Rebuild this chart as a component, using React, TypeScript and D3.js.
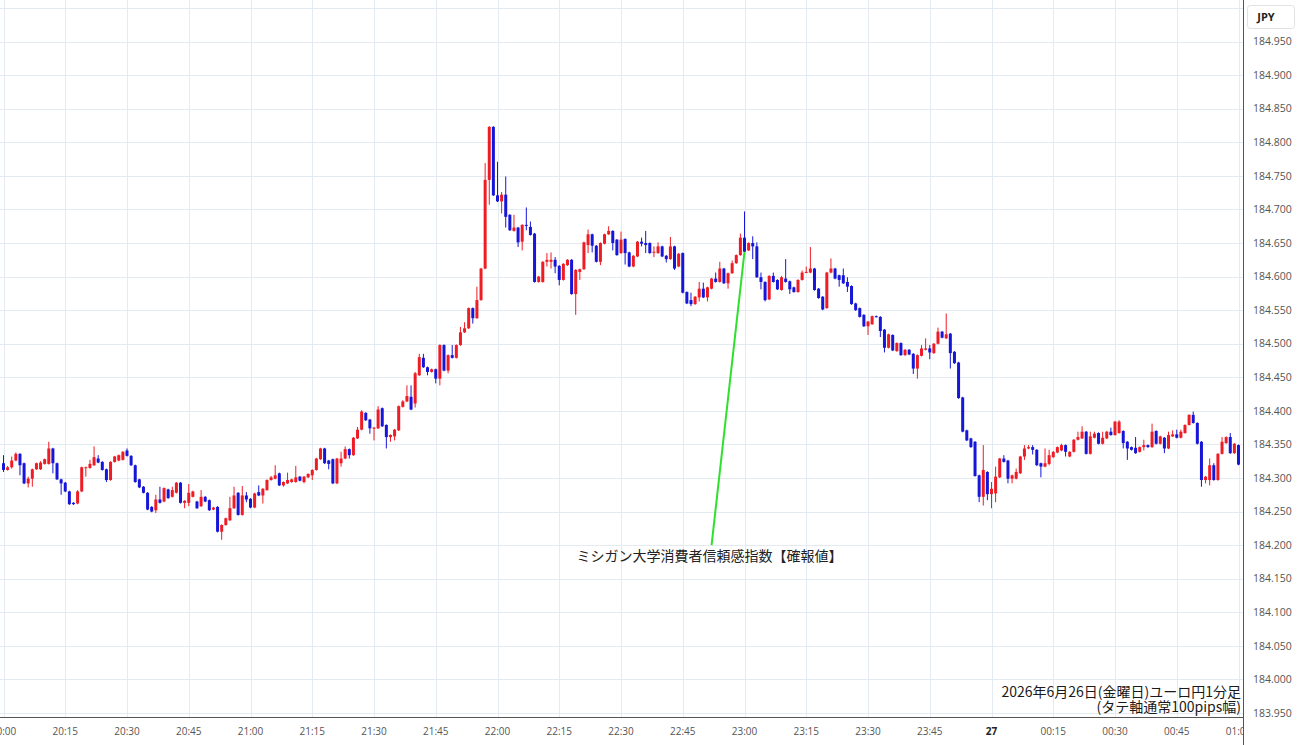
import React from 'react';
import * as d3 from 'd3';

// ---- data ----
const startTime = new Date(2026, 5, 26, 20, 0, 0);
const endTime = new Date(2026, 5, 27, 1, 0, 0);

const priceTicks = [183.95, 184.0, 184.05, 184.1, 184.15, 184.2, 184.25, 184.3, 184.35, 184.4, 184.45, 184.5, 184.55, 184.6, 184.65, 184.7, 184.75, 184.8, 184.85, 184.9, 184.95];
const gridPrices = [...priceTicks, 185.0];

// one-minute candles from 20:00, [open, high, low, close]
const candles: [number, number, number, number][] = [
  [184.322,184.334,184.309,184.312],[184.312,184.318,184.311,184.316],[184.316,184.332,184.314,184.326],[184.326,184.338,184.325,184.336],[184.336,184.337,184.304,184.319],
  [184.322,184.323,184.291,184.292],[184.292,184.302,184.286,184.299],[184.299,184.314,184.287,184.313],[184.313,184.323,184.312,184.322],[184.313,184.325,184.312,184.323],
  [184.321,184.329,184.320,184.328],[184.321,184.354,184.320,184.344],[184.344,184.345,184.307,184.322],[184.322,184.323,184.297,184.298],[184.298,184.299,184.275,184.292],
  [184.293,184.294,184.279,184.280],[184.280,184.281,184.260,184.261],[184.263,184.264,184.260,184.261],[184.262,184.282,184.261,184.280],[184.280,184.317,184.279,184.316],
  [184.315,184.317,184.302,184.316],[184.315,184.327,184.314,184.321],[184.319,184.347,184.318,184.331],[184.329,184.334,184.322,184.323],[184.324,184.325,184.311,184.312],
  [184.313,184.314,184.294,184.297],[184.297,184.325,184.296,184.324],[184.324,184.333,184.323,184.332],[184.326,184.335,184.325,184.334],[184.327,184.340,184.326,184.339],
  [184.341,184.344,184.332,184.333],[184.333,184.334,184.318,184.319],[184.319,184.320,184.293,184.294],[184.298,184.299,184.285,184.286],[184.287,184.288,184.277,184.278],
  [184.278,184.279,184.252,184.253],[184.257,184.258,184.249,184.250],[184.252,184.275,184.248,184.268],[184.268,184.287,184.262,184.263],[184.265,184.286,184.264,184.285],
  [184.283,184.284,184.269,184.270],[184.272,184.287,184.271,184.282],[184.278,184.294,184.277,184.293],[184.293,184.294,184.262,184.263],[184.263,184.267,184.255,184.266],
  [184.263,184.291,184.258,184.278],[184.272,184.281,184.271,184.280],[184.265,184.266,184.254,184.255],[184.258,184.282,184.257,184.272],[184.272,184.273,184.264,184.265],
  [184.267,184.268,184.251,184.252],[184.253,184.257,184.252,184.256],[184.257,184.258,184.219,184.220],[184.220,184.231,184.208,184.230],[184.230,184.241,184.229,184.240],
  [184.237,184.272,184.236,184.255],[184.255,184.287,184.254,184.274],[184.278,184.279,184.244,184.245],[184.245,184.288,184.244,184.274],[184.274,184.279,184.264,184.268],
  [184.269,184.270,184.255,184.256],[184.256,184.278,184.255,184.277],[184.279,184.289,184.273,184.274],[184.274,184.285,184.262,184.284],[184.282,184.298,184.281,184.297],
  [184.297,184.303,184.296,184.301],[184.299,184.319,184.298,184.304],[184.307,184.308,184.288,184.289],[184.289,184.295,184.287,184.294],[184.292,184.308,184.291,184.297],
  [184.294,184.299,184.293,184.298],[184.294,184.318,184.293,184.301],[184.302,184.303,184.295,184.296],[184.294,184.303,184.292,184.302],[184.301,184.307,184.300,184.306],
  [184.304,184.313,184.297,184.312],[184.312,184.330,184.311,184.329],[184.328,184.345,184.327,184.344],[184.344,184.345,184.321,184.322],[184.326,184.327,184.313,184.321],
  [184.328,184.329,184.291,184.292],[184.292,184.330,184.291,184.329],[184.322,184.339,184.317,184.329],[184.329,184.347,184.328,184.343],[184.343,184.344,184.329,184.334],
  [184.334,184.361,184.333,184.360],[184.359,184.376,184.358,184.372],[184.372,184.401,184.371,184.399],[184.397,184.398,184.385,184.386],[184.387,184.388,184.366,184.374],
  [184.374,184.376,184.356,184.375],[184.374,184.407,184.373,184.402],[184.404,184.405,184.376,184.377],[184.379,184.380,184.344,184.361],[184.361,184.365,184.354,184.364],
  [184.362,184.373,184.356,184.372],[184.371,184.408,184.370,184.407],[184.406,184.416,184.405,184.414],[184.414,184.438,184.413,184.422],[184.421,184.438,184.401,184.402],
  [184.411,184.458,184.405,184.456],[184.453,184.485,184.452,184.480],[184.479,184.485,184.464,184.465],[184.465,184.466,184.453,184.458],[184.458,184.463,184.457,184.462],
  [184.462,184.463,184.441,184.448],[184.448,184.499,184.438,184.498],[184.498,184.499,184.459,184.460],[184.460,184.484,184.456,184.483],[184.483,184.498,184.478,184.479],
  [184.479,184.499,184.478,184.498],[184.498,184.525,184.497,184.517],[184.517,184.532,184.516,184.523],[184.523,184.554,184.522,184.553],[184.553,184.554,184.530,184.538],
  [184.538,184.585,184.537,184.565],[184.565,184.613,184.564,184.612],[184.612,184.769,184.611,184.744],[184.744,184.824,184.707,184.823],[184.823,184.824,184.720,184.721],
  [184.721,184.771,184.711,184.712],[184.712,184.726,184.694,184.722],[184.722,184.749,184.673,184.689],[184.692,184.693,184.668,184.669],[184.668,184.692,184.667,184.673],
  [184.673,184.674,184.644,184.651],[184.652,184.678,184.639,184.677],[184.677,184.703,184.669,184.676],[184.674,184.682,184.661,184.662],[184.664,184.665,184.591,184.592],
  [184.592,184.601,184.591,184.600],[184.592,184.623,184.591,184.622],[184.622,184.635,184.615,184.625],[184.622,184.636,184.612,184.625],[184.625,184.629,184.605,184.615],
  [184.616,184.617,184.587,184.595],[184.595,184.620,184.594,184.619],[184.617,184.626,184.616,184.625],[184.625,184.626,184.573,184.574],[184.574,184.611,184.543,184.610],
  [184.607,184.612,184.595,184.611],[184.611,184.652,184.610,184.651],[184.647,184.670,184.635,184.663],[184.663,184.664,184.636,184.646],[184.646,184.647,184.621,184.622],
  [184.622,184.651,184.617,184.650],[184.649,184.664,184.648,184.663],[184.663,184.675,184.662,184.668],[184.668,184.669,184.639,184.650],[184.655,184.656,184.631,184.632],
  [184.635,184.667,184.634,184.655],[184.656,184.657,184.618,184.635],[184.636,184.637,184.614,184.615],[184.615,184.632,184.614,184.631],[184.630,184.653,184.629,184.652],
  [184.652,184.658,184.645,184.649],[184.650,184.668,184.635,184.647],[184.650,184.651,184.634,184.635],[184.636,184.645,184.629,184.637],[184.635,184.651,184.634,184.645],
  [184.645,184.646,184.629,184.630],[184.631,184.632,184.621,184.626],[184.626,184.659,184.625,184.645],[184.645,184.646,184.610,184.612],[184.615,184.635,184.614,184.634],
  [184.635,184.636,184.575,184.576],[184.577,184.578,184.559,184.560],[184.565,184.576,184.556,184.559],[184.559,184.571,184.558,184.570],[184.569,184.592,184.563,184.582],
  [184.582,184.591,184.568,184.569],[184.569,184.585,184.563,184.584],[184.582,184.598,184.581,184.597],[184.597,184.606,184.591,184.592],[184.592,184.622,184.591,184.612],
  [184.612,184.613,184.589,184.590],[184.590,184.606,184.582,184.605],[184.605,184.624,184.604,184.620],[184.620,184.633,184.619,184.632],[184.632,184.664,184.631,184.658],
  [184.658,184.697,184.636,184.637],[184.639,184.651,184.638,184.650],[184.650,184.660,184.626,184.645],[184.645,184.651,184.598,184.599],[184.599,184.606,184.581,184.592],
  [184.592,184.593,184.563,184.565],[184.566,184.602,184.565,184.601],[184.601,184.606,184.591,184.592],[184.595,184.596,184.580,184.581],[184.580,184.601,184.579,184.599],
  [184.597,184.626,184.591,184.592],[184.593,184.594,184.574,184.581],[184.584,184.585,184.576,184.577],[184.577,184.596,184.576,184.595],[184.595,184.609,184.594,184.606],
  [184.606,184.615,184.605,184.607],[184.606,184.644,184.605,184.612],[184.612,184.613,184.579,184.580],[184.582,184.583,184.567,184.568],[184.570,184.571,184.550,184.551],
  [184.553,184.607,184.552,184.606],[184.606,184.627,184.605,184.612],[184.612,184.613,184.596,184.597],[184.602,184.603,184.585,184.595],[184.602,184.612,184.589,184.590],
  [184.592,184.599,184.577,184.585],[184.586,184.587,184.558,184.559],[184.560,184.561,184.549,184.550],[184.553,184.554,184.539,184.540],[184.543,184.544,184.525,184.526],
  [184.526,184.534,184.513,184.533],[184.529,184.542,184.528,184.541],[184.541,184.542,184.539,184.540],[184.540,184.541,184.510,184.519],[184.521,184.522,184.487,184.494],
  [184.494,184.515,184.493,184.514],[184.513,184.514,184.489,184.490],[184.489,184.502,184.488,184.501],[184.501,184.502,184.482,184.483],[184.483,184.492,184.482,184.491],
  [184.491,184.492,184.483,184.484],[184.485,184.486,184.455,184.463],[184.463,184.484,184.448,184.483],[184.482,184.498,184.481,184.493],[184.491,184.508,184.490,184.493],
  [184.493,184.498,184.477,184.487],[184.486,184.501,184.485,184.500],[184.500,184.524,184.499,184.518],[184.518,184.519,184.508,184.509],[184.508,184.545,184.507,184.514],
  [184.515,184.516,184.463,184.486],[184.488,184.489,184.470,184.471],[184.472,184.473,184.418,184.419],[184.420,184.421,184.368,184.369],[184.371,184.372,184.355,184.356],
  [184.359,184.360,184.345,184.346],[184.354,184.355,184.302,184.303],[184.304,184.305,184.264,184.272],[184.272,184.349,184.259,184.312],[184.309,184.310,184.267,184.276],
  [184.276,184.294,184.255,184.284],[184.277,184.317,184.264,184.302],[184.301,184.330,184.300,184.329],[184.329,184.334,184.323,184.324],[184.326,184.327,184.292,184.299],
  [184.299,184.305,184.292,184.304],[184.299,184.314,184.298,184.309],[184.307,184.333,184.306,184.332],[184.332,184.349,184.327,184.344],[184.344,184.349,184.343,184.346],
  [184.346,184.349,184.335,184.342],[184.342,184.343,184.318,184.319],[184.322,184.323,184.301,184.317],[184.317,184.344,184.316,184.322],[184.321,184.342,184.319,184.334],
  [184.331,184.340,184.330,184.339],[184.338,184.347,184.337,184.346],[184.341,184.351,184.340,184.349],[184.349,184.350,184.332,184.339],[184.332,184.340,184.331,184.339],
  [184.339,184.358,184.338,184.357],[184.357,184.369,184.356,184.361],[184.359,184.377,184.358,184.369],[184.369,184.370,184.335,184.336],[184.336,184.369,184.335,184.362],
  [184.360,184.369,184.359,184.366],[184.367,184.368,184.350,184.351],[184.351,184.369,184.350,184.360],[184.359,184.370,184.358,184.369],[184.369,184.375,184.363,184.364],
  [184.364,184.385,184.363,184.384],[184.367,184.386,184.366,184.384],[184.370,184.371,184.344,184.352],[184.354,184.355,184.327,184.344],[184.346,184.347,184.341,184.342],
  [184.345,184.361,184.336,184.337],[184.339,184.347,184.338,184.346],[184.346,184.357,184.341,184.349],[184.349,184.350,184.345,184.346],[184.346,184.381,184.345,184.369],
  [184.370,184.371,184.350,184.351],[184.351,184.363,184.350,184.362],[184.360,184.361,184.337,184.344],[184.344,184.369,184.343,184.364],[184.362,184.371,184.361,184.365],
  [184.365,184.372,184.359,184.360],[184.360,184.372,184.359,184.369],[184.367,184.380,184.366,184.379],[184.379,184.395,184.378,184.394],[184.394,184.399,184.381,184.382],
  [184.382,184.383,184.350,184.351],[184.354,184.355,184.287,184.297],[184.297,184.303,184.292,184.302],[184.297,184.329,184.289,184.319],[184.319,184.322,184.296,184.297],
  [184.297,184.337,184.296,184.336],[184.336,184.361,184.335,184.354],[184.352,184.362,184.351,184.361],[184.361,184.367,184.336,184.337],[184.337,184.352,184.336,184.351],
  [184.349,184.350,184.319,184.320],
];

const eventTime = new Date(2026, 5, 26, 23, 0, 0);
const eventLabel = 'ミシガン大学消費者信頼感指数【確報値】';
const eventLabelTime = new Date(2026, 5, 26, 22, 52, 0);
const eventLabelPrice = 184.2;
const captionLines = ['2026年6月26日(金曜日)ユーロ円1分足', '(タテ軸通常100pips幅)'];
const currencyLabel = 'JPY';

// ---- layout ----
const W = 1300;
const H = 745;
const plotRight = 1243.5;
const axisY = 717.5;
const UP = '#ee1c24';
const DOWN = '#1616d8';
const GRID = '#e3eaf1';

export default function App() {
  const x = d3.scaleTime().domain([startTime, endTime]).range([3.5, 1238.5]);
  const y = d3.scaleLinear().domain([183.95, 184.95]).range([713, 41.6]);
  const timeTicks = x.ticks(d3.timeMinute.every(15) as d3.TimeInterval);
  const fmt = d3.timeFormat('%H:%M');
  const candleTime = (i: number) => d3.timeMinute.offset(startTime, i);

  const eventIdx = Math.round((eventTime.getTime() - startTime.getTime()) / 60000);
  const eventClose = candles[eventIdx][3];

  return (
    <svg width={W} height={H} style={{ position: 'absolute', left: 0, top: 0, background: '#fff' }}
      fontFamily="'Open Sans', 'Noto Sans', sans-serif">
      <defs>
        <clipPath id="plotClip">
          <rect x={0} y={0} width={plotRight} height={H} />
        </clipPath>
      </defs>
      <rect x={0} y={0} width={W} height={H} fill="#fff" />
      {/* grid */}
      <g clipPath="url(#plotClip)">
        {gridPrices.map((p) => (
          <line key={'h' + p} x1={0} x2={plotRight} y1={Math.round(y(p)) + 0.5} y2={Math.round(y(p)) + 0.5} stroke={GRID} strokeWidth={1} />
        ))}
        {timeTicks.map((t) => (
          <line key={'v' + t.getTime()} x1={Math.round(x(t)) + 0.5} x2={Math.round(x(t)) + 0.5} y1={0} y2={axisY} stroke={GRID} strokeWidth={1} />
        ))}
      </g>
      {/* candles */}
      <g>
        {candles.map(([o, h, l, c], i) => {
          const cx = x(candleTime(i));
          const up = c >= o;
          const col = up ? UP : DOWN;
          const hi = Math.max(h, o, c);
          const lo = Math.min(l, o, c);
          const top = y(Math.max(o, c));
          const bot = y(Math.min(o, c));
          return (
            <g key={i}>
              <line x1={cx} x2={cx} y1={y(hi)} y2={y(lo)} stroke={col} strokeWidth={1} />
              <rect x={cx - 1.5} y={top} width={3} height={Math.max(1, bot - top)} fill={col} />
            </g>
          );
        })}
      </g>
      {/* event annotation */}
      <line x1={x(eventTime)} y1={y(eventClose)} x2={x(eventLabelTime)} y2={y(eventLabelPrice)} stroke="#2fe02f" strokeWidth={2} />
      <text x={x(eventLabelTime) - 2} y={y(eventLabelPrice) + 16} textAnchor="middle" fontSize={14}
        fontFamily="'Noto Sans CJK JP', sans-serif" fill="#222">{eventLabel}</text>
      {/* caption */}
      {captionLines.map((s, k) => (
        <text key={k} x={1241} y={697 + k * 15} textAnchor="end" fontSize={14}
          fontFamily="'Noto Sans CJK JP', sans-serif" fill="#1a1a1a">{s}</text>
      ))}
      {/* x axis */}
      <line x1={0} x2={plotRight} y1={axisY} y2={axisY} stroke="#555" strokeWidth={1} />
      <g clipPath="url(#plotClip)">
        {timeTicks.map((t) => {
          const isDay = t.getHours() === 0 && t.getMinutes() === 0;
          return (
            <text key={'t' + t.getTime()} x={x(t)} y={731} dy="0.35em" textAnchor="middle"
              fontSize={10} fill={isDay ? '#222' : '#555'} fontWeight={isDay ? 700 : 400}>
              {isDay ? d3.timeFormat('%d')(t) : fmt(t)}
            </text>
          );
        })}
      </g>
      {/* right axis */}
      <line x1={plotRight} x2={plotRight} y1={0} y2={H} stroke="#555" strokeWidth={1} />
      {priceTicks.map((p) => (
        <text key={'p' + p} x={1253} y={y(p)} dy="0.35em" fontSize={10.5} fill="#555">{p.toFixed(3)}</text>
      ))}
      <rect x={1247.5} y={5.5} width={47} height={23} rx={3} fill="#fff" stroke="#e2e2e2" />
      <text x={1266} y={17.5} dy="0.35em" textAnchor="middle" fontSize={11} fontWeight={700} fill="#222">{currencyLabel}</text>
    </svg>
  );
}
